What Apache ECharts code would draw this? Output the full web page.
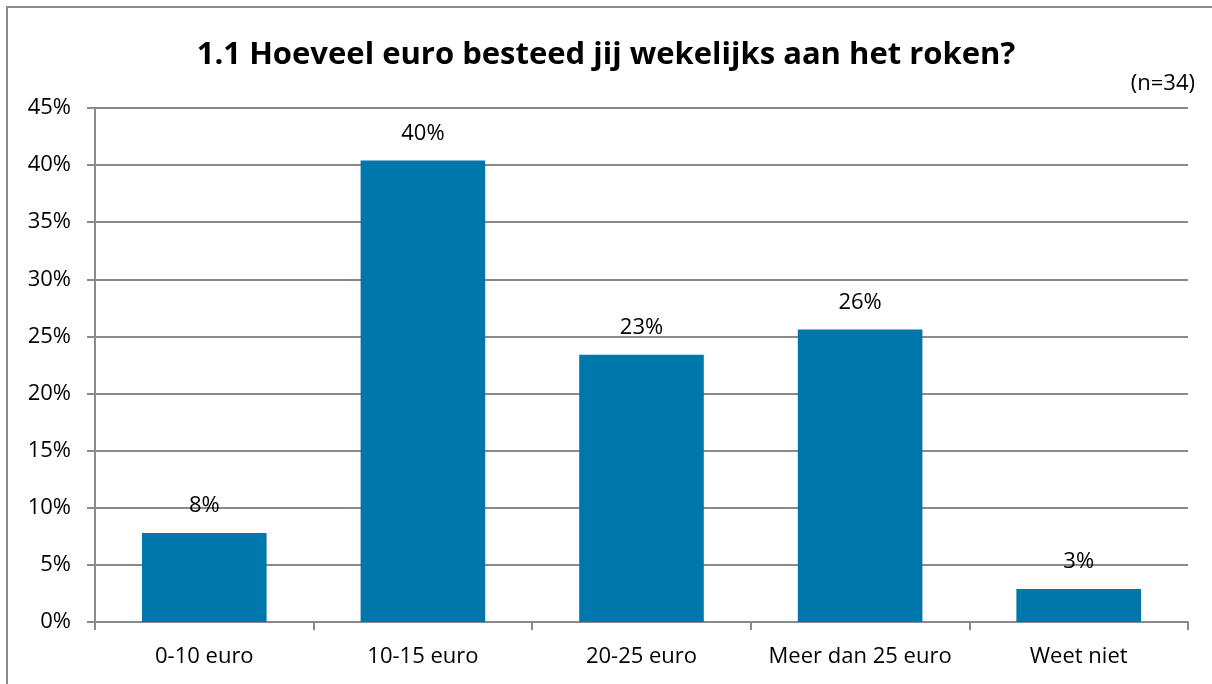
<!DOCTYPE html>
<html>
<head>
<meta charset="utf-8">
<script src="https://cdn.jsdelivr.net/npm/echarts@6/dist/echarts.min.js"></script>
<style>
html,body{margin:0;padding:0;background:#fff;overflow:hidden;}
#frame{position:absolute;left:6px;top:6px;width:1300px;height:800px;border:2px solid #8a8a8a;box-sizing:border-box;}
#chart{position:absolute;left:0;top:0;width:1212px;height:684px;}
</style>
</head>
<body>
<div id="frame"></div>
<div id="chart"></div>
<script>
const titleText = '1.1 Hoeveel euro besteed jij wekelijks aan het roken?';
const noteText = '(n=34)';
const categories = ['0-10 euro', '10-15 euro', '20-25 euro', 'Meer dan 25 euro', 'Weet niet'];
const values = [7.8, 40.4, 23.4, 25.6, 2.9];
const labelTexts = ['8%', '40%', '23%', '26%', '3%'];

const FONT = 'Open Sans';
const chart = echarts.init(document.getElementById('chart'), null, {renderer: 'canvas'});
chart.setOption({
  animation: false,
  title: [{
    text: titleText, left: 'center', top: 35,
    textStyle: {fontFamily: FONT, fontWeight: 'bold', fontSize: 31, color: '#000'}
  }, {
    text: noteText, right: 12, top: 68,
    textStyle: {fontFamily: FONT, fontWeight: 'normal', fontSize: 22, color: '#000'}
  }],
  grid: {left: 95, right: 24, top: 108, bottom: 62, containLabel: false},
  xAxis: {
    type: 'category', data: categories,
    axisLine: {lineStyle: {color: '#8a8a8a', width: 2}},
    axisTick: {show: true, interval: 0, length: 8, lineStyle: {color: '#8a8a8a', width: 2}},
    axisLabel: {interval: 0, hideOverlap: false, fontFamily: FONT, fontSize: 22, color: '#000', margin: 24}
  },
  yAxis: {
    type: 'value', min: 0, max: 45, interval: 5,
    axisLine: {show: true, lineStyle: {color: '#8a8a8a', width: 2}},
    axisTick: {show: true, length: 8, lineStyle: {color: '#8a8a8a', width: 2}},
    axisLabel: {fontFamily: FONT, fontSize: 22, color: '#000', margin: 24, formatter: '{value}%'},
    splitLine: {lineStyle: {color: '#8a8a8a', width: 2}}
  },
  series: [{
    type: 'bar', data: values, barWidth: '57%',
    itemStyle: {color: '#0077AA'},
    label: {
      show: true, position: 'top', distance: 16,
      fontFamily: FONT, fontSize: 22, color: '#000',
      formatter: p => labelTexts[p.dataIndex]
    }
  }]
});
</script>
</body>
</html>
